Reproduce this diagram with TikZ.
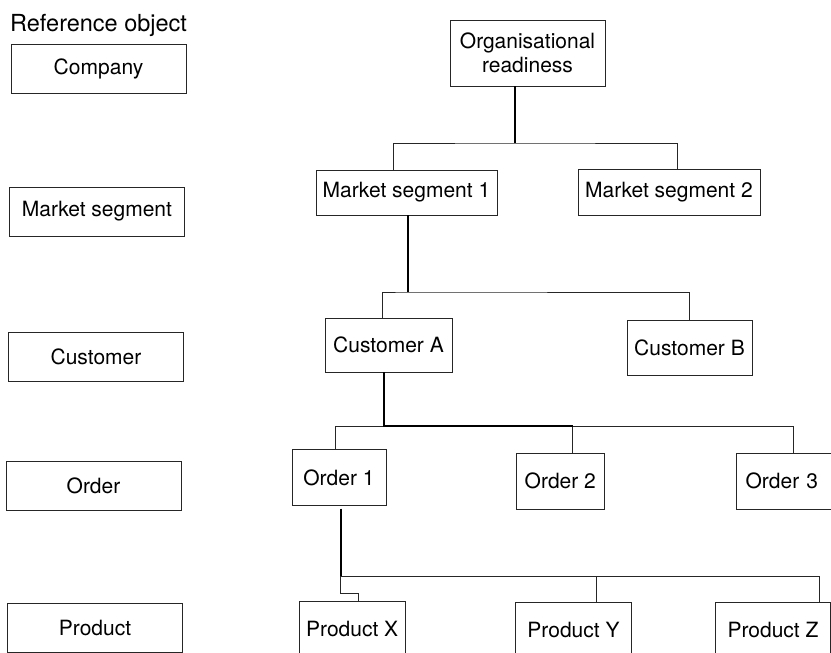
\documentclass[tikz,border=0pt]{standalone}
\usepackage{fontspec}
\setmainfont{TeX Gyre Heros}
\usepackage{tikz}
\tikzstyle{level}=[rectangle, draw=black!85, line width=0.8pt, text centered,
inner sep=0pt, minimum width=175pt, minimum height=49pt, font=\fontsize{21}{24}\selectfont]
\tikzstyle{unit}=[rectangle, draw=black!85, line width=0.8pt, text centered,
inner sep=0pt, font=\fontsize{21}{23.5}\selectfont]
\tikzstyle{trunk}=[draw=black, line width=1.6pt]
\tikzstyle{branch}=[draw=black!85, line width=0.8pt]

\begin{document}
\begin{tikzpicture}[x=1pt, y=-1pt]
\useasboundingbox (0,0) rectangle (831,653);
\clip (0,0) rectangle (831,653);

% reference objects on the left
\node (refobj)[anchor=base west, inner sep=0pt, font=\fontsize{23.5}{28}\selectfont] at (10,31) {Reference object};
\node (company)[level] at (98.5,69) {Company};
\node (segment)[level] at (97,211.5) {Market segment};
\node (customer)[level] at (96,356.5) {Customer};
\node (order)[level] at (93.5,485.5) {Order};
\node (product)[level] at (95,627.5) {Product};

% the tree
\node (org)[unit, align=center, minimum width=155pt, minimum height=66pt] at (527.5,53) {Organisational\\readiness};
\node (ms1)[unit, minimum width=181pt, minimum height=45pt] at (406.5,192.5) {Market segment 1};
\node (ms2)[unit, minimum width=182pt, minimum height=46pt] at (669,192) {Market segment 2};
\node (custA)[unit, minimum width=127pt, minimum height=54pt] at (388.5,345) {Customer A};
\node (custB)[unit, minimum width=125pt, minimum height=55pt] at (689.5,347.5) {Customer B};
\node (o1)[unit, minimum width=94pt, minimum height=56pt] at (339,477.7) {Order 1};
\node (o2)[unit, minimum width=88pt, minimum height=56pt] at (560.3,481.3) {Order 2};
\node (o3)[unit, anchor=west, inner xsep=9.5pt, text width=81pt, align=left, minimum height=56pt] at (735.7,481.3) {Order 3};
\node (prodX)[unit, minimum width=105.7pt, minimum height=55pt] at (352.2,629.2) {Product X};
\node (prodY)[unit, minimum width=116.4pt, minimum height=55pt] at (573.5,630.2) {Product Y};
\node (prodZ)[unit, minimum width=115.4pt, minimum height=55pt] at (773,630.2) {Product Z};

\coordinate (j1) at (515,143);
\coordinate (j2) at (408,292);
\coordinate (j3) at (384,426);
\coordinate (j4) at (340.7,576);
\coordinate (o2top) at ([xshift=12.4pt]o2.north);

\draw[trunk] (org.south -| j1) -- (j1);
\draw[branch] ([xshift=-13.5pt]ms1.north) |- (j1) -| ([xshift=8pt]ms2.north);

\draw[trunk] (ms1.south -| j2) -- (j2);
\draw[branch] ([xshift=-6.5pt]custA.north) |- (j2) -| ([xshift=-0.5pt]custB.north);

\draw[branch] ([xshift=-4pt]o1.north) |- (j3);
\draw[branch] (j3) -| ([xshift=7.6pt]o3.north);
\draw[branch] (o2top) |- (j3);
\draw[trunk] (custA.south -| j3) -- (j3) -- (j3 -| o2top);

\draw[trunk] ([yshift=-2.6pt]o1.south -| j4) -- (j4);
\draw[branch] (j4) -| ([xshift=23.2pt]prodY.north);
\draw[branch] (j4) -| ([xshift=46pt]prodZ.north);
\draw[branch] (j4) -- ++(0,17.3) -| ([xshift=6.1pt]prodX.north);
\end{tikzpicture}
\end{document}
